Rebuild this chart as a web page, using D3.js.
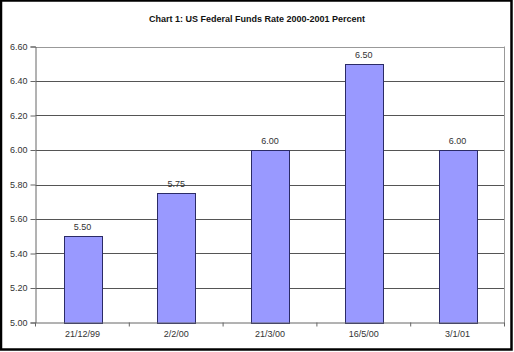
<!DOCTYPE html>
<html><head><meta charset="utf-8">
<script src="https://cdn.jsdelivr.net/npm/d3@7"></script>
<style>body{margin:0;background:#fff}svg{display:block}text{font-family:Arial,"Liberation Sans",sans-serif}</style>
</head><body>
<svg id="c" width="514" height="352"></svg>
<script>
const title = "Chart 1: US Federal Funds Rate 2000-2001 Percent";
const categories = ["21/12/99","2/2/00","21/3/00","16/5/00","3/1/01"];
const values = [5.50, 5.75, 6.00, 6.50, 6.00];
const yTicks = [5.00,5.20,5.40,5.60,5.80,6.00,6.20,6.40,6.60];

const svg = d3.select("#c");
const L = 35.5, R = 504.5, T = 46.5, B = 322.5;

// outer border
svg.append("rect").attr("x",1).attr("y",0.5).attr("width",510.5).attr("height",349).attr("fill","none").attr("stroke","#000").attr("stroke-width",2.5);

svg.append("text").attr("x",257).attr("y",21.5).attr("text-anchor","middle")
  .attr("font-size",9).attr("font-weight","bold").attr("fill","#111").text(title);

const x = d3.scaleBand().domain(categories).range([L,R]).paddingInner(0).paddingOuter(0);
const y = d3.scaleLinear().domain([5.0,6.6]).range([B,T]);

// gridlines
svg.append("g").selectAll("line").data(yTicks.slice(1)).join("line")
  .attr("x1",L).attr("x2",R).attr("y1",d=>Math.round(y(d))+0.5).attr("y2",d=>Math.round(y(d))+0.5)
  .attr("stroke",d=>d===6.6?"#999":"#555").attr("stroke-width",1);
// right plot border
svg.append("line").attr("x1",R).attr("x2",R).attr("y1",T).attr("y2",B).attr("stroke","#999");

// bars
const bw = x.bandwidth()/2.5;
svg.append("g").selectAll("rect").data(values).join("rect")
  .attr("x",(d,i)=>Math.round(x(categories[i])+x.bandwidth()/2-bw/2)+0.5)
  .attr("y",d=>Math.round(y(d))+0.5)
  .attr("width",Math.round(bw))
  .attr("height",d=>Math.round(B)-Math.round(y(d)))
  .attr("fill","#9999ff").attr("stroke","#2b2b66").attr("stroke-width",1);

// value labels
svg.append("g").selectAll("text").data(values).join("text")
  .attr("x",(d,i)=>x(categories[i])+x.bandwidth()/2)
  .attr("y",d=>y(d)-6)
  .attr("text-anchor","middle").attr("font-size",9).attr("fill","#333")
  .text(d=>d3.format(".2f")(d));

// y axis
const yAxis = d3.axisLeft(y).tickValues(yTicks).tickFormat(d3.format(".2f")).tickSize(5).tickPadding(3);
const gy = svg.append("g").attr("transform",`translate(${L},0)`).call(yAxis);
gy.select(".domain").attr("stroke","#666");
gy.selectAll(".tick line").attr("stroke","#666");
gy.selectAll("text").attr("font-size",9).attr("fill","#333").attr("font-family","Arial, Liberation Sans, sans-serif");

// x axis
const xAxis = d3.axisBottom(x).tickSize(0).tickPadding(8);
const gx = svg.append("g").attr("transform",`translate(0,${B})`).call(xAxis);
gx.select(".domain").attr("stroke","#666");
gx.selectAll("text").attr("font-size",9).attr("fill","#333").attr("font-family","Arial, Liberation Sans, sans-serif");
// category boundary ticks
svg.append("g").selectAll("line").data(d3.range(categories.length+1)).join("line")
  .attr("x1",i=>L+i*x.step()).attr("x2",i=>L+i*x.step())
  .attr("y1",B).attr("y2",B+4).attr("stroke","#666");
</script>
</body></html>
